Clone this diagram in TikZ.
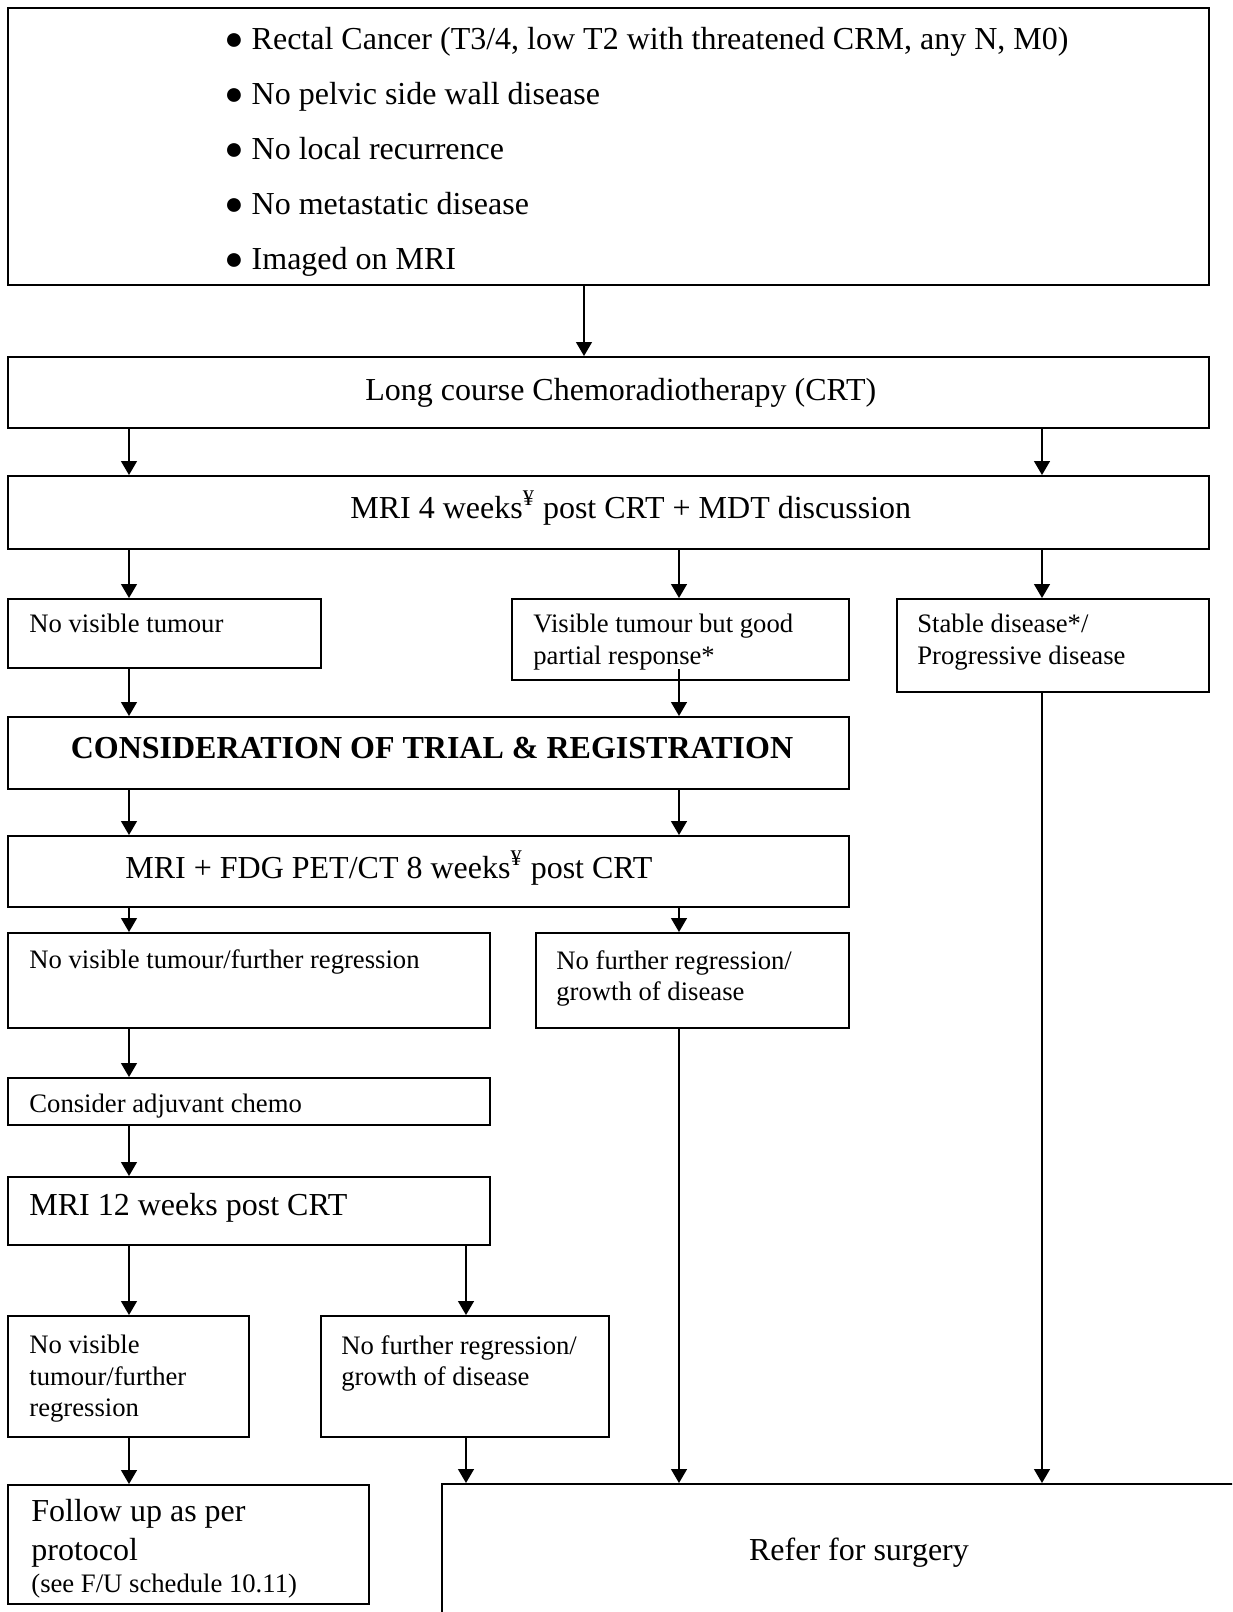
\documentclass[tikz,border=0pt]{standalone}
\usepackage{fontspec}
\setmainfont{Liberation Serif}
\usetikzlibrary{arrows.meta,fit}

\tikzset{
  box/.style={draw, line width=1pt, inner sep=0pt},
  arr/.style={line width=0.7pt, -{Triangle[length=7pt,width=8pt]}},
  big/.style={inner sep=0pt, anchor=base west, font=\fontsize{16}{19.5}\selectfont},
  small/.style={inner sep=0pt, anchor=base west, font=\fontsize{13.33}{15.75}\selectfont},
  smallpar/.style={small, anchor=north west, align=left},
}

\begin{document}
\begin{tikzpicture}[x=0.5pt,y=-0.5pt]
    \clip (0,0) rectangle (1232,1612);
    % columns of the arrows
    \coordinate (colA) at (129,0);
    \coordinate (colB) at (679,0);
    \coordinate (colC) at (1042,0);
    \coordinate (colD) at (466,0);
    \coordinate (colM) at (584,0);

    % boxes
    \node[box, fit={(8,8) (1209,285)}] (elig) {};
    \node[box, fit={(8,357) (1209,428)}] (crt) {};
    \node[box, fit={(8,476) (1209,549)}] (mri4) {};
    \node[box, fit={(8,599) (321,668)}] (novis) {};
    \node[box, fit={(512,599) (849,680)}] (partial) {};
    \node[box, fit={(897,599) (1209,692)}] (stable) {};
    \node[box, fit={(8,717) (849,789)}] (trial) {};
    \node[box, fit={(8,836) (849,907)}] (pet8) {};
    \node[box, fit={(8,933) (490,1028)}] (novis8) {};
    \node[box, fit={(536,933) (849,1028)}] (nofurther8) {};
    \node[box, fit={(8,1078) (490,1125)}] (adjuv) {};
    \node[box, fit={(8,1177) (490,1245)}] (mri12) {};
    \node[box, fit={(8,1316) (249,1437)}] (novis12) {};
    \node[box, fit={(321,1316) (609,1437)}] (nofurther12) {};
    \node[box, fit={(8,1485) (369,1604)}] (follow) {};
    \node[box, fit={(442,1484) (1276,1620)}] (surgery) {};

    % texts
    \foreach \i/\t in {0/{Rectal Cancer (T3/4, low T2 with threatened CRM, any N, M0)},
        1/{No pelvic side wall disease}, 2/{No local recurrence},
        3/{No metastatic disease}, 4/{Imaged on MRI}}{
        \node[big] (elig-\i) at (224,{49+55*\i}) {● \t};
    }
    \node[big] (crt-t) at (365,400) {Long course Chemoradiotherapy (CRT)};
    \node[big] (mri4-t) at (350,518) {MRI 4 weeks\textsuperscript{¥} post CRT + MDT discussion};
    \node[small] (novis-t) at (29,632) {No visible tumour};
    \node[smallpar] (partial-t) at (533,614) {Visible tumour but good\\partial response*};
    \node[smallpar] (stable-t) at (917,614) {Stable disease*/\\Progressive disease};
    \node[big, anchor=base, font=\fontsize{16}{19.5}\selectfont\bfseries] (trial-t) at (432,758)
        {CONSIDERATION OF TRIAL \& REGISTRATION};
    \node[big] (pet8-t) at (125,878) {MRI + FDG PET/CT 8 weeks\textsuperscript{¥} post CRT};
    \node[small] (novis8-t) at (29,968) {No visible tumour/further regression};
    \node[smallpar] (nofurther8-t) at (556,950) {No further regression/\\growth of disease};
    \node[small] (adjuv-t) at (29,1112) {Consider adjuvant chemo};
    \node[big] (mri12-t) at (29,1215) {MRI 12 weeks post CRT};
    \node[smallpar] (novis12-t) at (29,1335) {No visible\\tumour/further\\regression};
    \node[smallpar] (nofurther12-t) at (341,1335) {No further regression/\\growth of disease};
    \node[big, anchor=north west, align=left] (follow-t) at (31,1499) {Follow up as per\\protocol};
    \node[small] (follow-n) at (31,1592) {(see F/U schedule 10.11)};
    \node[big, anchor=base] (surgery-t) at (859,1560) {Refer for surgery};

    % arrows
    \draw[arr] (elig.south -| colM) -- (crt.north -| colM);
    \foreach \c in {colA,colC}
        \draw[arr] (crt.south -| \c) -- (mri4.north -| \c);
    \draw[arr] (mri4.south -| colA) -- (novis.north -| colA);
    \draw[arr] (mri4.south -| colB) -- (partial.north -| colB);
    \draw[arr] (mri4.south -| colC) -- (stable.north -| colC);
    \draw[arr] (novis.south -| colA) -- (trial.north -| colA);
    \draw[arr] ([yshift=6pt]partial.south -| colB) -- (trial.north -| colB);
    \foreach \c in {colA,colB}
        \draw[arr] (trial.south -| \c) -- (pet8.north -| \c);
    \draw[arr] (pet8.south -| colA) -- (novis8.north -| colA);
    \draw[arr] (pet8.south -| colB) -- (nofurther8.north -| colB);
    \draw[arr] (novis8.south -| colA) -- (adjuv.north -| colA);
    \draw[arr] (adjuv.south -| colA) -- (mri12.north -| colA);
    \draw[arr] (mri12.south -| colA) -- (novis12.north -| colA);
    \draw[arr] (mri12.south -| colD) -- (nofurther12.north -| colD);
    \draw[arr] (novis12.south -| colA) -- (follow.north -| colA);
    \draw[arr] (nofurther12.south -| colD) -- (surgery.north -| colD);
    \draw[arr] (nofurther8.south -| colB) -- (surgery.north -| colB);
    \draw[arr] (stable.south -| colC) -- (surgery.north -| colC);
\end{tikzpicture}
\end{document}
